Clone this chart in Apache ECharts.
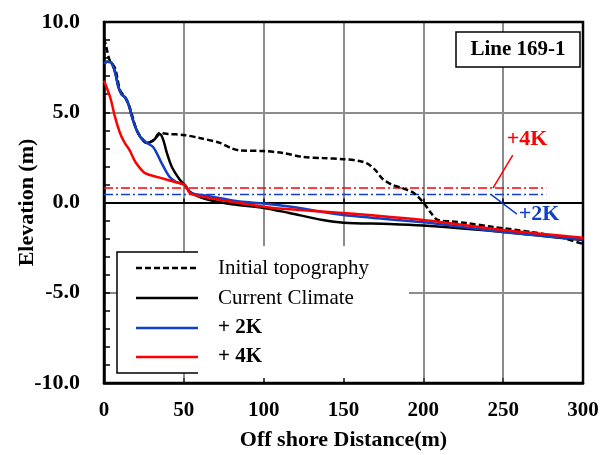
<!DOCTYPE html>
<html>
<head>
<meta charset="utf-8">
<script src="https://cdn.jsdelivr.net/npm/echarts@6/dist/echarts.min.js"></script>
<style>
html,body{margin:0;padding:0;background:#fff;}
#chart{width:614px;height:455px;}
</style>
</head>
<body>
<div id="chart"></div>
<script>
// ---------- data ----------
const xTicks = [0, 50, 100, 150, 200, 250, 300];
const yTicks = [-10, -5, 0, 5, 10];

const initialX = [0, 1.5, 3.5, 6.9, 10, 13, 16, 20.5, 25, 27, 31, 35, 40, 50, 60, 72.6, 80, 85, 100, 112, 125, 137, 150, 160, 165, 170, 174, 180, 186, 194, 200, 205, 209, 218, 227, 244, 267, 285, 300];
const initialY = [9.1, 8.6, 7.9, 7.45, 6.23, 5.85, 5.3, 4.0, 3.4, 3.3, 3.45, 3.85, 3.8, 3.74, 3.57, 3.3, 3.0, 2.88, 2.85, 2.74, 2.52, 2.46, 2.4, 2.3, 2.15, 1.8, 1.35, 1.0, 0.82, 0.53, 0.0, -0.6, -0.97, -1.05, -1.14, -1.36, -1.63, -1.91, -2.3];

const currentX = [0, 2, 4.5, 7, 9, 11, 13.5, 15.5, 18, 20.5, 23, 27, 31, 35, 37, 39.4, 42.5, 47.6, 50.7, 54, 60, 66, 80, 100, 116, 137, 150, 179, 200, 250, 300];
const currentY = [7.7, 7.8, 7.75, 7.2, 6.4, 6.0, 5.8, 5.4, 4.6, 4.0, 3.6, 3.3, 3.45, 3.8, 3.5, 2.74, 1.97, 1.25, 0.97, 0.58, 0.3, 0.14, -0.1, -0.3, -0.58, -0.97, -1.12, -1.19, -1.28, -1.63, -2.08];

const plus2X = [0, 2, 4.5, 7, 9, 11, 13.5, 15.5, 18, 20.5, 23, 27, 31, 36, 41, 45, 50.7, 54, 66, 85, 100, 116, 150, 200, 250, 300];
const plus2Y = [7.7, 7.8, 7.75, 7.2, 6.4, 6.0, 5.8, 5.4, 4.6, 4.0, 3.6, 3.3, 3.05, 2.2, 1.43, 1.15, 0.97, 0.55, 0.35, 0.05, -0.05, -0.22, -0.69, -1.1, -1.63, -2.05];

const plus4X = [0, 3.8, 6.9, 10, 13, 16, 20, 25.7, 35, 45, 50.7, 54, 66, 100, 116, 150, 200, 250, 300];
const plus4Y = [6.75, 5.85, 4.74, 3.85, 3.3, 2.9, 2.2, 1.63, 1.38, 1.12, 0.97, 0.5, 0.25, -0.23, -0.38, -0.58, -0.97, -1.52, -1.95];

const levelX = [0, 277];
const level4K = 0.8;
const level2K = 0.45;

const seriesNames = ['Initial topography', 'Current Climate', '+ 2K', '+ 4K'];
const annot4K = {text: '+4K', x: 265, y: 3.52, lx: [243.6, 256], ly: [0.8, 2.63]};
const annot2K = {text: '+2K', x: 272.5, y: -0.64, lx: [242.3, 258.6], ly: [0.45, -0.64]};

// ---------- chart ----------
const BLUE = '#1040c8';
const RED = '#ff0000';
const FONT = 'Liberation Serif';
const zip = (xs, ys) => xs.map((x, i) => [x, ys[i]]);

const chart = echarts.init(document.getElementById('chart'), null, {renderer: 'canvas'});

const lineSeries = (name, xs, ys, color, type, z) => ({
  name, type: 'line', data: zip(xs, ys), showSymbol: false, symbol: 'none',
  smooth: 0.3, z: z || 3, silent: true,
  lineStyle: {color, width: 2.5, type: type || 'solid'}
});

const option = {
  animation: false,
  backgroundColor: '#fff',
  textStyle: {fontFamily: FONT},
  grid: {left: 104, right: 31, top: 22, bottom: 72, show: true, borderColor: '#000', borderWidth: 2.5,
    backgroundColor: 'transparent', containLabel: false, outerBoundsMode: 'none', z: 2},
  xAxis: [{
    type: 'value', min: xTicks[0], max: xTicks[xTicks.length - 1], interval: 50, position: 'bottom',
    axisLine: {show: true, onZero: false, lineStyle: {color: '#000', width: 2.5}},
    axisTick: {show: true, inside: true, length: 5, lineStyle: {color: '#333', width: 1.5}},
    axisLabel: {color: '#000', fontFamily: FONT, fontWeight: 'bold', fontSize: 21, margin: 17},
    splitLine: {show: true, lineStyle: {color: '#8c8c8c', width: 2}},
    name: 'Off shore Distance(m)', nameLocation: 'middle', nameGap: 46, nameMoveOverlap: false,
    nameTextStyle: {color: '#000', fontFamily: FONT, fontWeight: 'bold', fontSize: 22}
  }, {
    type: 'value', min: xTicks[0], max: xTicks[xTicks.length - 1], interval: 50, position: 'bottom',
    axisLine: {show: true, onZero: true, lineStyle: {color: '#000', width: 2}},
    axisTick: {show: true, inside: true, length: 4, lineStyle: {color: '#000', width: 1.5}},
    axisLabel: {show: false}, splitLine: {show: false}, z: 1
  }],
  yAxis: {
    type: 'value', min: yTicks[0], max: yTicks[yTicks.length - 1], interval: 5,
    axisLine: {show: true, onZero: false, lineStyle: {color: '#000', width: 2.5}},
    axisTick: {show: true, inside: true, length: 6, lineStyle: {color: '#000', width: 1.5}},
    minorTick: {show: true, splitNumber: 5, length: 6, lineStyle: {color: '#000', width: 1.5}},
    axisLabel: {color: '#000', fontFamily: FONT, fontWeight: 'bold', fontSize: 22, margin: 24,
      formatter: v => v.toFixed(1)},
    splitLine: {show: true, lineStyle: {color: '#8c8c8c', width: 2}},
    name: 'Elevation (m)', nameLocation: 'middle', nameGap: 66, nameRotate: 90, nameMoveOverlap: false,
    nameTextStyle: {color: '#000', fontFamily: FONT, fontWeight: 'bold', fontSize: 22}
  },
  series: [
    {type: 'line', data: zip(levelX, [level4K, level4K]), symbol: 'none', silent: true, z: 2,
      lineStyle: {color: RED, width: 1.5, type: [9, 3, 2, 3]}},
    {type: 'line', data: zip(levelX, [level2K, level2K]), symbol: 'none', silent: true, z: 2,
      lineStyle: {color: BLUE, width: 1.5, type: [9, 3, 2, 3]}},
    {type: 'line', data: zip(annot4K.lx, annot4K.ly), symbol: 'none', silent: true, z: 2,
      lineStyle: {color: RED, width: 1.5}},
    {type: 'line', data: zip(annot2K.lx, annot2K.ly), symbol: 'none', silent: true, z: 2,
      lineStyle: {color: BLUE, width: 1.5}},
    lineSeries(seriesNames[0], initialX, initialY, '#000', [6, 3], 3),
    lineSeries(seriesNames[1], currentX, currentY, '#000', 'solid', 4),
    lineSeries(seriesNames[2], plus2X, plus2Y, BLUE, 'solid', 5),
    lineSeries(seriesNames[3], plus4X, plus4Y, RED, 'solid', 6)
  ]
};
chart.setOption(option);

// legend, title box and annotations (graphic)
const legendColors = ['#000', '#000', BLUE, RED];
const legendTypes = [[6, 3], 'solid', 'solid', 'solid'];
const legendBold = ['normal', 'normal', 'bold', 'bold'];
const rowY = [268, 298, 328, 357];
const g = [];
g.push({type: 'rect', shape: {x: 117, y: 252, width: 81, height: 121}, style: {fill: '#fff'}, z: 50});
g.push({type: 'rect', shape: {x: 198, y: 246, width: 211, height: 132}, style: {fill: '#fff'}, z: 50});
g.push({type: 'polyline', shape: {points: [[198, 252], [117, 252], [117, 373], [198, 373]]},
  style: {stroke: '#000', lineWidth: 1.5, fill: null}, z: 51});
seriesNames.forEach((n, i) => {
  g.push({type: 'line', shape: {x1: 136, y1: rowY[i], x2: 198, y2: rowY[i]},
    style: {stroke: legendColors[i], lineWidth: 2.5, lineDash: legendTypes[i] === 'solid' ? null : legendTypes[i]}, z: 52});
  g.push({type: 'text', x: 218, y: rowY[i], style: {text: n, fill: '#000', font: legendBold[i] + ' 21px "' + FONT + '"',
    textVerticalAlign: 'middle', textAlign: 'left'}, z: 52});
});
g.push({type: 'rect', shape: {x: 456, y: 32, width: 124, height: 35}, style: {fill: '#fff', stroke: '#000', lineWidth: 1.5}, z: 50});
g.push({type: 'text', x: 518, y: 50, style: {text: 'Line 169-1', fill: '#000', font: 'bold 21px "' + FONT + '"',
  textAlign: 'center', textVerticalAlign: 'middle'}, z: 51});
[[annot4K, RED], [annot2K, BLUE]].forEach(([a, c]) => {
  const p = chart.convertToPixel({xAxisIndex: 0, yAxisIndex: 0}, [a.x, a.y]);
  g.push({type: 'text', x: p[0], y: p[1], style: {text: a.text, fill: c, font: 'bold 22px "' + FONT + '"',
    textAlign: 'center', textVerticalAlign: 'middle'}, z: 52});
});
chart.setOption({graphic: g});
</script>
</body>
</html>
